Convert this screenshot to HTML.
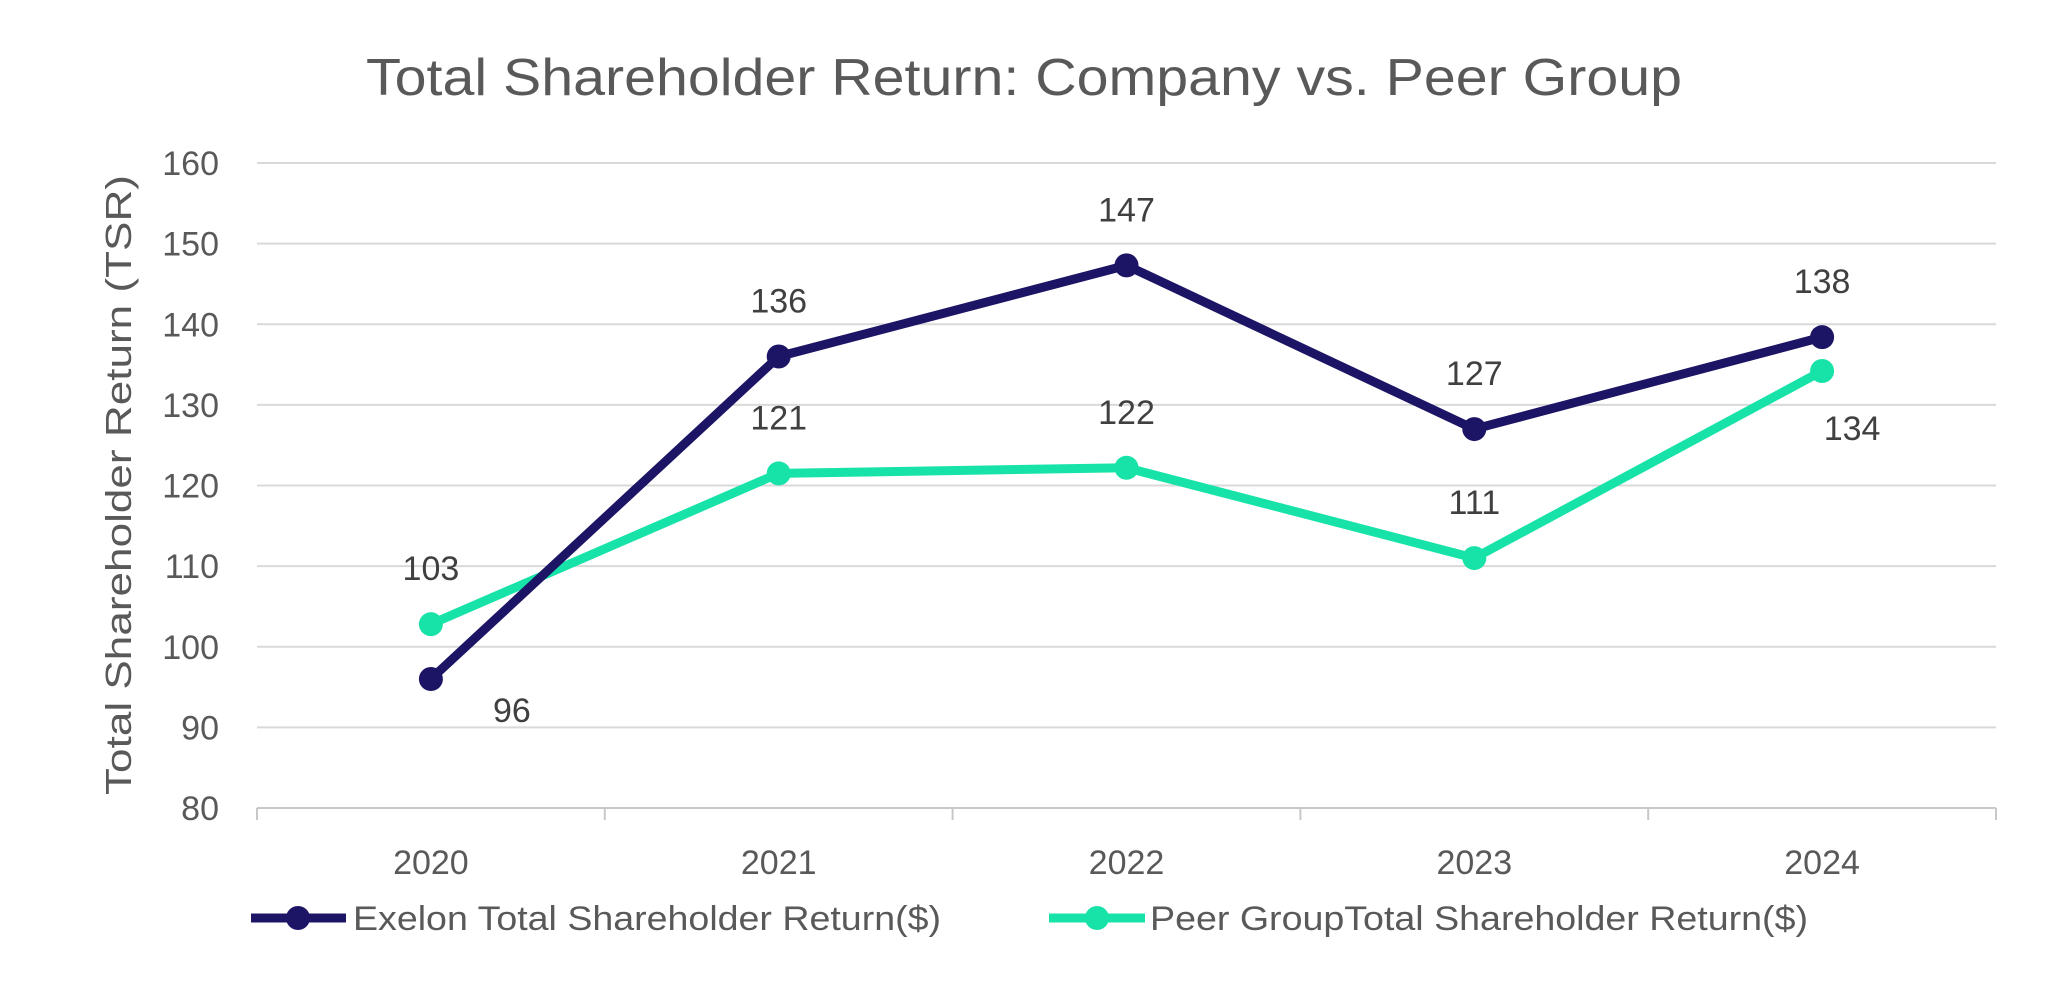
<!DOCTYPE html>
<html><head><meta charset="utf-8"><style>
html,body{margin:0;padding:0;background:#fff;}
svg{display:block;font-family:"Liberation Sans",sans-serif;}
</style></head><body>
<svg id="chart" width="2048" height="984" viewBox="0 0 2048 984">
<text x="1024" y="95" text-anchor="middle" font-size="52" fill="#595959" textLength="1316" lengthAdjust="spacingAndGlyphs">Total Shareholder Return: Company vs. Peer Group</text>
<text transform="translate(131,485) rotate(-90)" text-anchor="middle" font-size="36" fill="#595959" textLength="620" lengthAdjust="spacingAndGlyphs">Total Shareholder Return (TSR)</text>
<g id="grid"></g><g id="ylabels"></g><g id="xlabels"></g><g id="series"></g>
<g>
<g>
<line x1="251" y1="918" x2="346" y2="918" stroke="#1c1464" stroke-width="9"/>
<circle cx="298" cy="918" r="12" fill="#1c1464"/>
<text x="353" y="930" font-size="34" fill="#595959" textLength="588" lengthAdjust="spacingAndGlyphs">Exelon Total Shareholder Return($)</text>
</g>
<g>
<line x1="1049" y1="918" x2="1145" y2="918" stroke="#17e3a8" stroke-width="9"/>
<circle cx="1097" cy="918" r="12" fill="#17e3a8"/>
<text x="1150" y="930" font-size="34" fill="#595959" textLength="658" lengthAdjust="spacingAndGlyphs">Peer GroupTotal Shareholder Return($)</text>
</g>
</g>
</svg>
<script>
const categories=["2020","2021","2022","2023","2024"];
const exelonValues=[96,136,147.3,127,138.4];
const peerValues=[102.8,121.5,122.2,111,134.2];
const exelonLabels=["96","136","147","127","138"];
const peerLabels=["103","121","122","111","134"];
const yTicks=[80,90,100,110,120,130,140,150,160];
const NS="http://www.w3.org/2000/svg";
const L=257,R=1996,T=163,B=808,yMin=80,yMax=160;
const x=i=>L+(R-L)/categories.length*(i+0.5);
const y=v=>B-(v-yMin)/(yMax-yMin)*(B-T);
function mk(tag,attrs,parent){const e=document.createElementNS(NS,tag);for(const k in attrs)e.setAttribute(k,attrs[k]);parent.appendChild(e);return e;}
const grid=document.getElementById('grid'),yl=document.getElementById('ylabels'),xl=document.getElementById('xlabels'),ser=document.getElementById('series');
yTicks.forEach(t=>{
 const g=mk('line',{x1:L,x2:R,y1:y(t),y2:y(t),stroke:t===yMin?'#c8c8c8':'#d9d9d9','stroke-width':2},grid);
 
 
 const tx=mk('text',{x:219,y:y(t)+12,'text-anchor':'end','font-size':34,fill:'#595959'},yl);
 tx.textContent=t;
 
 
});
for(let i=0;i<=categories.length;i++){
 const xx=L+(R-L)/categories.length*i;
 const tk=mk('line',{x1:xx,x2:xx,y1:B,y2:B+12,stroke:'#c8c8c8','stroke-width':2},grid);
 
 
}
categories.forEach((c,i)=>{
 const tx=mk('text',{x:x(i),y:874,'text-anchor':'middle','font-size':34,fill:'#595959'},xl);
 tx.textContent=c;
 
 
});
function series(vals,labels,color,name,offs){
 const p=mk('polyline',{points:vals.map((v,i)=>x(i)+','+y(v)).join(' '),fill:'none',stroke:color,'stroke-width':9,'stroke-linejoin':'round'},ser);
 
 
 vals.forEach((v,i)=>{
  const c=mk('circle',{cx:x(i),cy:y(v),r:12,fill:color},ser);
  
  
  const o=offs[i];
  const t=mk('text',{x:x(i)+o[0],y:y(v)+o[1]+12,'text-anchor':'middle','font-size':34,fill:'#404040'},ser);
  t.textContent=labels[i];
  
  
 });
}
const up=[0,-56];
series(peerValues,peerLabels,'#17e3a8','peer',[up,up,up,up,[30,57]]);
series(exelonValues,exelonLabels,'#1c1464','exelon',[[81,31],up,up,up,up]);
</script>
</body></html>
